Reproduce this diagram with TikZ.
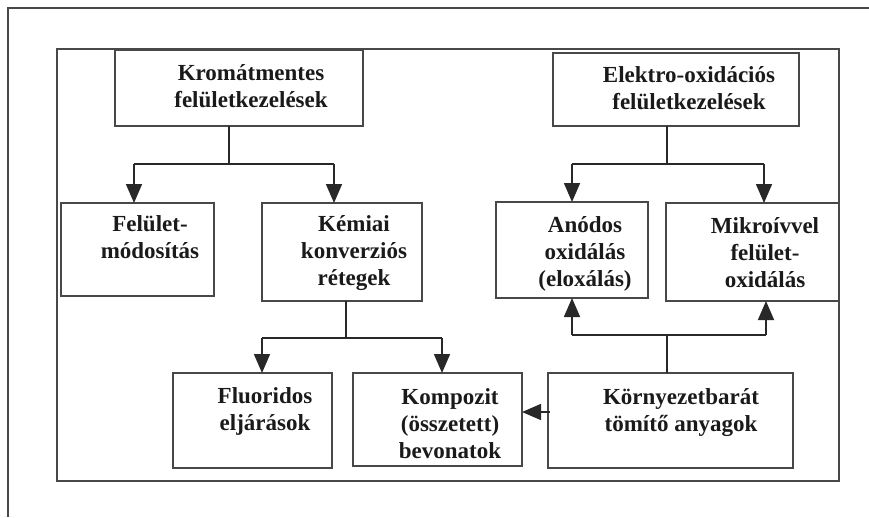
\documentclass[tikz,border=0pt]{standalone}
\usepackage{fontspec}
\setmainfont{Liberation Serif}
\usetikzlibrary{arrows.meta}
\definecolor{ln}{HTML}{282828}
\definecolor{fr}{HTML}{484848}
\definecolor{tx}{HTML}{1A1A1A}
\begin{document}
\begin{tikzpicture}[x=1pt,y=-1pt,
  box/.style={draw=fr, line width=2pt, rectangle, inner sep=0pt, outer sep=0pt, anchor=north west},
  txt/.style={font=\fontsize{23}{27}\selectfont\bfseries, text=tx, align=center, inner sep=0pt, anchor=north},
  conn/.style={draw=ln, line width=1.6pt},
  arr/.style={conn, -{Triangle[length=19pt,width=16pt]}}]
\useasboundingbox (0,0) rectangle (869,517);
% outer partial frame
\draw[fr, line width=1.8pt] (8,517) -- (8,8) -- (869,8);
% inner frame
\draw[fr, line width=2pt] (57,49) rectangle (839,481);
% boxes
\node[box, minimum width=248pt, minimum height=76pt] (kromat) at (115,50) {};
\node[box, minimum width=246pt, minimum height=73pt] (elektro) at (553,53) {};
\node[box, minimum width=153pt, minimum height=93pt] (felulet) at (61,203) {};
\node[box, minimum width=160pt, minimum height=98pt] (kemiai) at (262,203) {};
\node[box, minimum width=152pt, minimum height=96pt] (anodos) at (496,202) {};
\node[box, minimum width=173pt, minimum height=98pt] (mikro) at (666,203) {};
\node[box, minimum width=159pt, minimum height=95pt] (fluor) at (173,373) {};
\node[box, minimum width=169pt, minimum height=93pt] (kompozit) at (353,373) {};
\node[box, minimum width=245pt, minimum height=95pt] (korny) at (548,373) {};
% texts
\node[txt] (tkromat) at (251,64) {Kromátmentes\\felületkezelések};
\node[txt] (telektro) at (689,66) {Elektro-oxidációs\\felületkezelések};
\node[txt] (tfelulet) at (150,215) {Felület-\\módosítás};
\node[txt] (tkemiai) at (354,215) {Kémiai\\konverziós\\rétegek};
\node[txt] (tanodos) at (585,216) {Anódos\\oxidálás\\(eloxálás)};
\node[txt] (tmikro) at (765,217) {Mikroívvel\\felület-\\oxidálás};
\node[txt] (tfluor) at (265,387) {Fluoridos\\eljárások};
\node[txt] (tkompozit) at (450,388) {Kompozit\\(összetett)\\bevonatok};
\node[txt] (tkorny) at (681,388) {Környezetbarát\\tömítő anyagok};
% junction coordinates
\coordinate (j1) at (229,164);
\coordinate (j1l) at (134,164);
\coordinate (j1r) at (334,164);
\coordinate (j2) at (667,164);
\coordinate (j2l) at (572,164);
\coordinate (j2r) at (764,164);
\coordinate (j3) at (346,338);
\coordinate (j3l) at (262,338);
\coordinate (j3r) at (442,338);
\coordinate (j4) at (667,335);
\coordinate (j4l) at (572,335);
\coordinate (j4r) at (766,335);
\coordinate (j5) at (550,412);
% connectors
\draw[conn] (kromat.south -| j1) -- (j1);
\draw[conn] (j1l) -- (j1r);
\draw[arr] (j1l) -- (felulet.north -| j1l);
\draw[arr] (j1r) -- (kemiai.north -| j1r);
\draw[conn] (elektro.south -| j2) -- (j2);
\draw[conn] (j2l) -- (j2r);
\draw[arr] (j2l) -- (anodos.north -| j2l);
\draw[arr] (j2r) -- (mikro.north -| j2r);
\draw[conn] (kemiai.south -| j3) -- (j3);
\draw[conn] (j3l) -- (j3r);
\draw[arr] (j3l) -- (fluor.north -| j3l);
\draw[arr] (j3r) -- (kompozit.north -| j3r);
\draw[conn] (korny.north -| j4) -- (j4);
\draw[conn] (j4l) -- (j4r);
\draw[arr] (j4l) -- (anodos.south -| j4l);
\draw[arr] (j4r) -- (mikro.south -| j4r);
\draw[arr] (j5) -- (kompozit.east |- j5);
\end{tikzpicture}
\end{document}
